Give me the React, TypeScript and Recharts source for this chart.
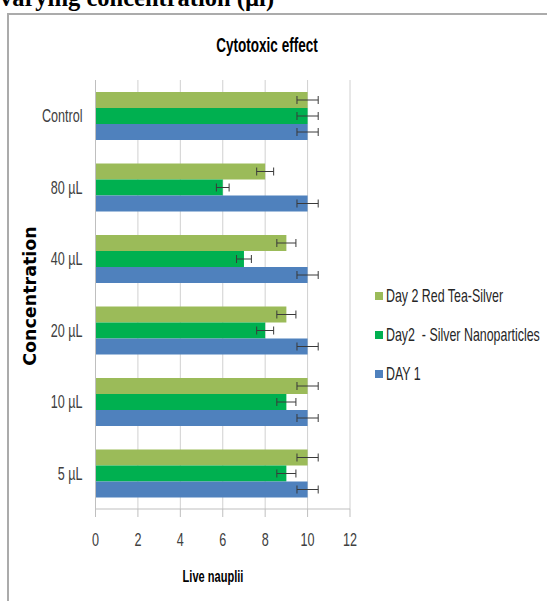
import React from 'react';
import { BarChart, Bar, XAxis, YAxis, CartesianGrid, ErrorBar } from 'recharts';

const categories = ['Control', '80 µL', '40 µL', '20 µL', '10 µL', '5 µL'];
const redTeaSilver = [10, 8, 9, 9, 10, 10];
const silverNano = [10, 6, 7, 8, 9, 9];
const day1 = [10, 10, 10, 10, 10, 10];
const redTeaErr = [0.5, 0.4, 0.45, 0.45, 0.5, 0.5];
const silverErr = [0.5, 0.3, 0.35, 0.4, 0.45, 0.45];
const day1Err = [0.5, 0.5, 0.5, 0.5, 0.5, 0.5];
const xTicks = [0, 2, 4, 6, 8, 10, 12];

const seriesNames = ['Day 2 Red Tea-Silver', 'Day2  - Silver Nanoparticles', 'DAY 1'];
const colors = ['#9BBB59', '#00B050', '#4F81BD'];

const data = categories.map((name, i) => ({
  name,
  redTea: redTeaSilver[i],
  silver: silverNano[i],
  day1: day1[i],
  redTeaErr: redTeaErr[i],
  silverErr: silverErr[i],
  day1Err: day1Err[i],
}));

const SANS = '"Liberation Sans", Arial, sans-serif';

function NarrowText(props: {
  x: number;
  y: number;
  anchor?: 'start' | 'middle' | 'end';
  size: number;
  squeeze?: number;
  bold?: boolean;
  fill?: string;
  dy?: string;
  children: React.ReactNode;
}) {
  const { x, y, anchor = 'start', size, squeeze = 0.72, bold, fill = '#000', dy, children } = props;
  return (
    <g transform={`translate(${x},${y})`}>
      <text
        transform={`scale(${squeeze},1)`}
        x={0}
        y={0}
        dy={dy}
        textAnchor={anchor}
        style={{ fontFamily: SANS, fontSize: size, fontWeight: bold ? 'bold' : 'normal', fill, whiteSpace: 'pre' }}
      >
        {children}
      </text>
    </g>
  );
}

const YTick = (props: any) => (
  <NarrowText x={props.x} y={props.y} anchor="end" size={17.5} fill="#404040" dy="0.36em">
    {props.payload.value}
  </NarrowText>
);

const XTick = (props: any) => (
  <NarrowText x={props.x} y={props.y} anchor="middle" size={17.5} fill="#404040" dy="0.71em">
    {props.payload.value}
  </NarrowText>
);

export default function App() {
  return (
    <div style={{ position: 'absolute', left: 0, top: 0, width: 547, height: 601, overflow: 'hidden', background: '#fff' }}>
      <div
        style={{
          position: 'absolute',
          left: 0,
          top: -14,
          fontFamily: '"Liberation Serif", "Times New Roman", serif',
          fontWeight: 'bold',
          fontSize: 24.5,
          lineHeight: '24px',
          whiteSpace: 'pre',
          color: '#000',
        }}
      >
        varying concentration (µl)
      </div>
      <div
        style={{
          position: 'absolute',
          left: 7,
          top: 13,
          width: 600,
          height: 700,
          border: '2px solid #ABABAB',
        }}
      />
      <div style={{ position: 'absolute', left: 0, top: 0 }}>
        <BarChart
          width={547}
          height={601}
          data={data}
          layout="vertical"
          margin={{ top: 80, right: 197, bottom: 40, left: 40 }}
          barCategoryGap={12}
          barGap={0}
        >
          <NarrowText x={267} y={52} anchor="middle" size={20.5} squeeze={0.66} bold>
            Cytotoxic effect
          </NarrowText>
          <text
            x={36}
            y={296}
            textAnchor="middle"
            transform="rotate(-90 36 296)"
            style={{ fontFamily: '"DejaVu Sans", sans-serif', fontWeight: 'bold', fontSize: 17.5, fill: '#000' }}
          >
            Concentration
          </text>
          <NarrowText x={213} y={582} anchor="middle" size={16.5} squeeze={0.67} bold>
            Live nauplii
          </NarrowText>
          {seriesNames.map((s, i) => (
            <g key={s}>
              <rect x={375} y={292 + i * 39} width={8} height={8} fill={colors[i]} />
              <NarrowText x={386} y={296 + i * 39} size={17.5} squeeze={0.71} fill="#262626" dy="0.36em">
                {s}
              </NarrowText>
            </g>
          ))}
          <CartesianGrid horizontal={false} vertical={true} stroke="#D0D0D0" strokeWidth={1} />
          <XAxis
            type="number"
            domain={[0, 12]}
            ticks={xTicks}
            interval={0}
            height={52}
            axisLine={{ stroke: '#BFBFBF' }}
            tickLine={{ stroke: '#BFBFBF' }}
            tickSize={8}
            tickMargin={17}
            tick={XTick}
          />
          <YAxis
            type="category"
            dataKey="name"
            width={55.5}
            axisLine={{ stroke: '#BFBFBF' }}
            tickLine={false}
            tickSize={0}
            tickMargin={13}
            tick={YTick}
          />
          <Bar dataKey="redTea" name={seriesNames[0]} fill={colors[0]} isAnimationActive={false}>
            <ErrorBar dataKey="redTeaErr" direction="x" width={4} stroke="#3a3a3a" strokeWidth={1} />
          </Bar>
          <Bar dataKey="silver" name={seriesNames[1]} fill={colors[1]} isAnimationActive={false}>
            <ErrorBar dataKey="silverErr" direction="x" width={4} stroke="#3a3a3a" strokeWidth={1} />
          </Bar>
          <Bar dataKey="day1" name={seriesNames[2]} fill={colors[2]} isAnimationActive={false}>
            <ErrorBar dataKey="day1Err" direction="x" width={4} stroke="#3a3a3a" strokeWidth={1} />
          </Bar>
        </BarChart>
      </div>
    </div>
  );
}
